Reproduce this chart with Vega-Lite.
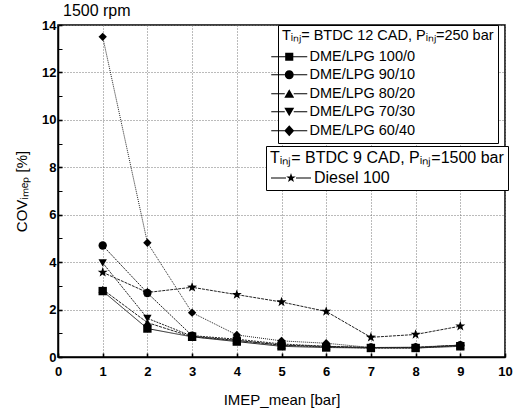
{
"$schema":"https://vega.github.io/schema/vega-lite/v6.json",
"width":447,"height":332,
"autosize":{"type":"none"},
"padding":{"left":58,"top":25,"right":20,"bottom":52},
"background":"white",
"config":{
 "view":{"stroke":"black","strokeWidth":1.5},
 "font":"Liberation Sans",
 "legend":{"orient":"none","strokeColor":"black","fillColor":"white","padding":4,"cornerRadius":0,
  "titleFont":"Liberation Sans","titleFontWeight":"normal","titleColor":"black",
  "labelFont":"Liberation Sans","labelColor":"black",
  "symbolStrokeWidth":1.2,"symbolFillColor":"black","symbolStrokeColor":"black",
  "titleLimit":400,"labelLimit":300}
},
"title":{"text":"1500 rpm","anchor":"start","frame":"group","fontSize":16,"fontWeight":"normal","font":"Liberation Sans","color":"black","offset":0,"dx":5},
"data":{"values":[
 {"series":"DME/LPG 100/0","imep":1,"cov":2.78},{"series":"DME/LPG 100/0","imep":2,"cov":1.2},{"series":"DME/LPG 100/0","imep":3,"cov":0.85},{"series":"DME/LPG 100/0","imep":4,"cov":0.65},{"series":"DME/LPG 100/0","imep":5,"cov":0.45},{"series":"DME/LPG 100/0","imep":6,"cov":0.4},{"series":"DME/LPG 100/0","imep":7,"cov":0.38},{"series":"DME/LPG 100/0","imep":8,"cov":0.38},{"series":"DME/LPG 100/0","imep":9,"cov":0.45},
 {"series":"DME/LPG 90/10","imep":1,"cov":4.7},{"series":"DME/LPG 90/10","imep":2,"cov":2.7},{"series":"DME/LPG 90/10","imep":3,"cov":0.9},{"series":"DME/LPG 90/10","imep":4,"cov":0.75},{"series":"DME/LPG 90/10","imep":5,"cov":0.55},{"series":"DME/LPG 90/10","imep":6,"cov":0.45},{"series":"DME/LPG 90/10","imep":7,"cov":0.4},{"series":"DME/LPG 90/10","imep":8,"cov":0.4},{"series":"DME/LPG 90/10","imep":9,"cov":0.5},
 {"series":"DME/LPG 80/20","imep":1,"cov":2.85},{"series":"DME/LPG 80/20","imep":2,"cov":1.45},{"series":"DME/LPG 80/20","imep":3,"cov":0.85},{"series":"DME/LPG 80/20","imep":4,"cov":0.7},{"series":"DME/LPG 80/20","imep":5,"cov":0.5},{"series":"DME/LPG 80/20","imep":6,"cov":0.45},{"series":"DME/LPG 80/20","imep":7,"cov":0.4},{"series":"DME/LPG 80/20","imep":8,"cov":0.4},{"series":"DME/LPG 80/20","imep":9,"cov":0.5},
 {"series":"DME/LPG 70/30","imep":1,"cov":3.97},{"series":"DME/LPG 70/30","imep":2,"cov":1.63},{"series":"DME/LPG 70/30","imep":3,"cov":0.88},{"series":"DME/LPG 70/30","imep":4,"cov":0.7},{"series":"DME/LPG 70/30","imep":5,"cov":0.5},{"series":"DME/LPG 70/30","imep":6,"cov":0.42},{"series":"DME/LPG 70/30","imep":7,"cov":0.38},{"series":"DME/LPG 70/30","imep":8,"cov":0.38},{"series":"DME/LPG 70/30","imep":9,"cov":0.48},
 {"series":"DME/LPG 60/40","imep":1,"cov":13.5},{"series":"DME/LPG 60/40","imep":2,"cov":4.82},{"series":"DME/LPG 60/40","imep":3,"cov":1.87},{"series":"DME/LPG 60/40","imep":4,"cov":0.93},{"series":"DME/LPG 60/40","imep":5,"cov":0.68},{"series":"DME/LPG 60/40","imep":6,"cov":0.58},{"series":"DME/LPG 60/40","imep":7,"cov":0.4},{"series":"DME/LPG 60/40","imep":8,"cov":0.42},{"series":"DME/LPG 60/40","imep":9,"cov":0.5},
 {"series":"Diesel 100","imep":1,"cov":3.57},{"series":"Diesel 100","imep":2,"cov":2.72},{"series":"Diesel 100","imep":3,"cov":2.94},{"series":"Diesel 100","imep":4,"cov":2.63},{"series":"Diesel 100","imep":5,"cov":2.32},{"series":"Diesel 100","imep":6,"cov":1.92},{"series":"Diesel 100","imep":7,"cov":0.83},{"series":"Diesel 100","imep":8,"cov":0.95},{"series":"Diesel 100","imep":9,"cov":1.3}
]},
"encoding":{
 "x":{"field":"imep","type":"quantitative","scale":{"domain":[0,10],"nice":false,"zero":false},
  "axis":{"title":"IMEP_mean [bar]","values":[0,0.5,1,1.5,2,2.5,3,3.5,4,4.5,5,5.5,6,6.5,7,7.5,8,8.5,9,9.5,10],
   "format":"d",
   "labelExpr":"datum.value % 1 === 0 ? datum.label : ''",
   "tickSize":-4,
   "tickWidth":{"condition":{"test":"datum.value % 1 === 0","value":1.6},"value":1},
   "gridOpacity":{"condition":{"test":"datum.value % 1 === 0","value":1},"value":0},
   "grid":true,"gridDash":[1,2],"gridColor":"#777","gridWidth":1,
   "domainColor":"black","domainWidth":1.5,"tickColor":"black",
   "labelFont":"Liberation Sans","labelFontWeight":"bold","labelFontSize":13,"labelColor":"black","labelPadding":12,"labelFlush":false,"labelOverlap":false,
   "titleFont":"Liberation Sans","titleFontSize":15,"titleFontWeight":"normal","titleColor":"black","titlePadding":14}},
 "y":{"field":"cov","type":"quantitative","scale":{"domain":[0,14],"nice":false},
  "axis":{"title":"COVᵢₘₑₚ [%]","values":[0,1,2,3,4,5,6,7,8,9,10,11,12,13,14],
   "labelExpr":"datum.value % 2 === 0 ? datum.label : ''",
   "tickSize":-4,
   "tickWidth":{"condition":{"test":"datum.value % 2 === 0","value":1.6},"value":1},
   "gridOpacity":{"condition":{"test":"datum.value % 2 === 0","value":1},"value":0},
   "grid":true,"gridDash":[1,2],"gridColor":"#777","gridWidth":1,
   "domainColor":"black","domainWidth":1.5,"tickColor":"black",
   "labelFont":"Liberation Sans","labelFontWeight":"bold","labelFontSize":13,"labelColor":"black","labelPadding":6,"labelFlush":false,"labelOverlap":false,
   "titleFont":"Liberation Sans","titleFontSize":15,"titleFontWeight":"normal","titleColor":"black","titlePadding":12}}
},
"layer":[
 {"mark":{"type":"line","color":"#222","strokeWidth":1},
  "encoding":{"detail":{"field":"series","type":"nominal"},
   "strokeDash":{"field":"series","type":"nominal","legend":null,
    "scale":{"domain":["DME/LPG 100/0","DME/LPG 90/10","DME/LPG 80/20","DME/LPG 70/30","DME/LPG 60/40","Diesel 100"],
     "range":[[1,0],[2,1],[3,1],[2,1],[1,1],[3,1]]}}}},
 {"transform":[{"filter":"datum.series !== 'Diesel 100'"}],
  "mark":{"type":"point","filled":true,"color":"black","opacity":1,"size":70},
  "encoding":{"shape":{"field":"series","type":"nominal","legend":null,
   "scale":{"domain":["DME/LPG 100/0","DME/LPG 90/10","DME/LPG 80/20","DME/LPG 70/30","DME/LPG 60/40"],
    "range":["square","circle","triangle-up","triangle-down","diamond"]}}}},
 {"transform":[{"filter":"datum.series === 'Diesel 100'"}],
  "mark":{"type":"point","filled":true,"color":"black","opacity":1,"size":110,
   "shape":"M0,-1L0.235,-0.324L0.951,-0.309L0.38,0.124L0.588,0.809L0,0.4L-0.588,0.809L-0.38,0.124L-0.951,-0.309L-0.235,-0.324Z"}},
 {"transform":[{"filter":"datum.imep > 100"}],
  "mark":{"type":"point","filled":true,"color":"black","opacity":1,"size":81},
  "encoding":{"shape":{"field":"series","type":"nominal",
   "scale":{"domain":["DME/LPG 100/0","DME/LPG 90/10","DME/LPG 80/20","DME/LPG 70/30","DME/LPG 60/40"],
    "range":["M-4,-0.13H-0.9V0.13H-4ZM0.9,-0.13H4V0.13H0.9ZM-0.9,-0.9H0.9V0.9H-0.9Z",
             "M-4,-0.1H-1V0.1H-4ZM1,-0.1H4V0.1H1ZM-1,0A1,1,0,1,0,1,0A1,1,0,1,0,-1,0Z",
             "M-4,-0.1H-1V0.1H-4ZM1,-0.1H4V0.1H1ZM0,-1L1.1,0.9H-1.1Z",
             "M-4,-0.1H-1V0.1H-4ZM1,-0.1H4V0.1H1ZM0,1L1.1,-0.9H-1.1Z",
             "M-4,-0.1H-1V0.1H-4ZM1,-0.1H4V0.1H1ZM0,-1.2L1.1,0L0,1.2L-1.1,0Z"]},
   "legend":{"title":"Tᵢₙⱼ= BTDC 12 CAD, Pᵢₙⱼ=250 bar","legendX":220,"legendY":0,
    "titleFontSize":14.5,"labelFontSize":14.5,"symbolSize":81,"symbolOffset":0,"labelOffset":13,"rowPadding":3,"titlePadding":6}}}},
 {"transform":[{"filter":"datum.imep > 100"}],
  "mark":{"type":"point","filled":true,"color":"black","opacity":1,"size":100},
  "encoding":{"shape":{"field":"series","type":"nominal",
   "scale":{"domain":["Diesel 100"],
    "range":["M-1.4,-0.1H1.6V0.1H-1.4ZM3.6,-0.1H6.6V0.1H3.6ZM2.6,-1L2.835,-0.324L3.551,-0.309L2.98,0.124L3.188,0.809L2.6,0.4L2.012,0.809L2.22,0.124L1.649,-0.309L2.365,-0.324Z"]},
   "legend":{"title":"Tᵢₙⱼ= BTDC 9 CAD, Pᵢₙⱼ=1500 bar","legendX":208,"legendY":121,
    "titleFontSize":16,"labelFontSize":16,"symbolSize":100,"symbolOffset":0,"labelOffset":28,"titlePadding":4}}}}
],
"resolve":{"scale":{"shape":"independent","strokeDash":"independent"},"legend":{"shape":"independent"}}
}
